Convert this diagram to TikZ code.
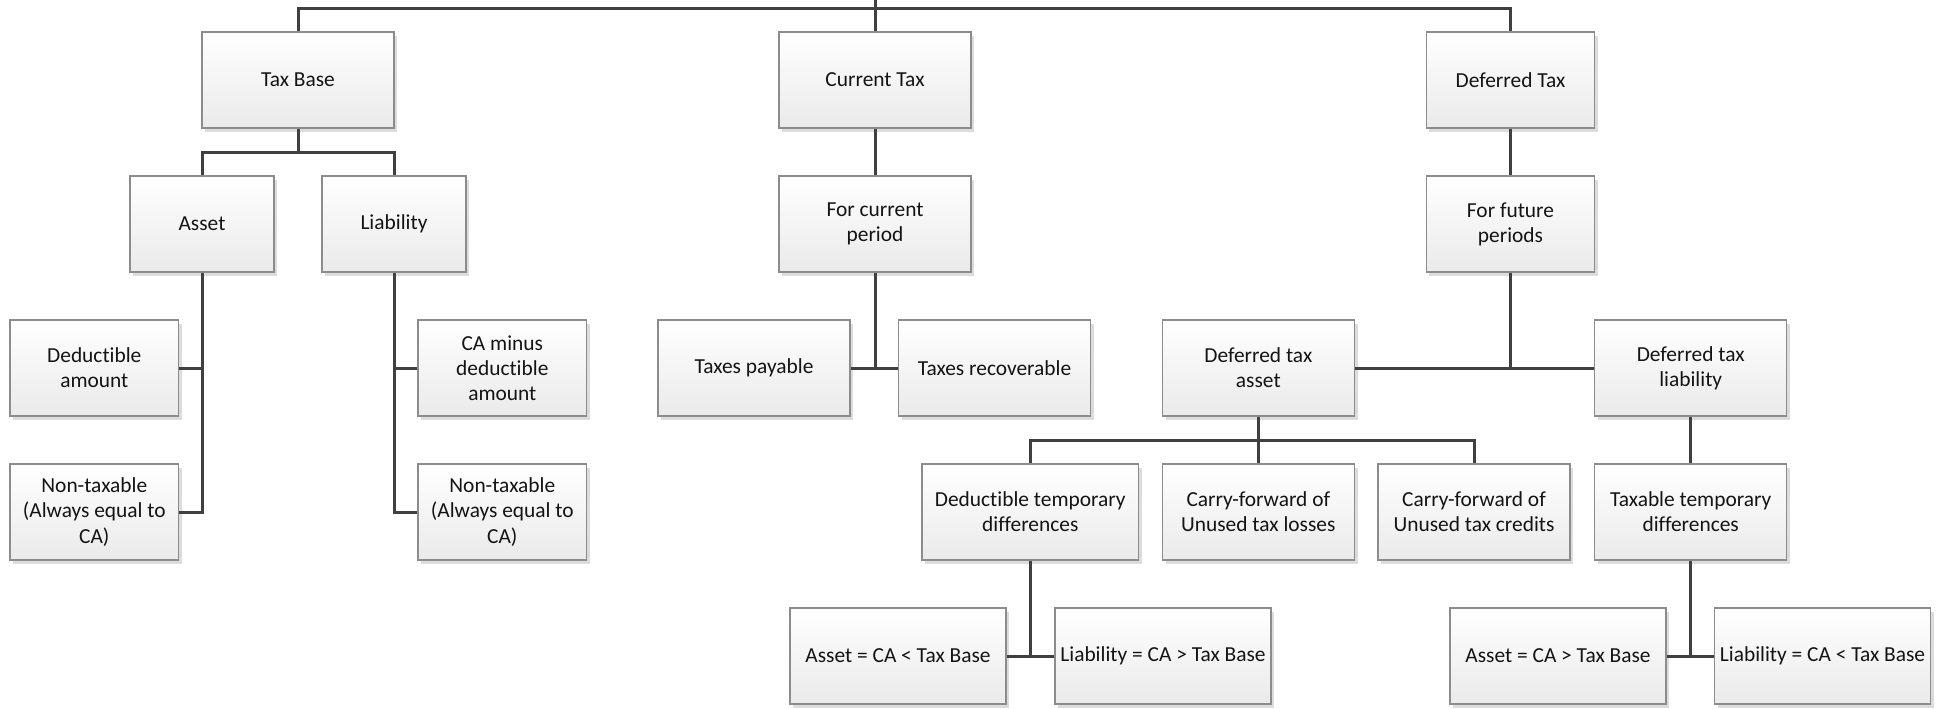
\documentclass[tikz,border=0pt]{standalone}
\usepackage{fontspec}
\setmainfont{Carlito}[Ligatures={NoCommon}]
\usetikzlibrary{shadows}
\definecolor{linkgray}{HTML}{404040}
\definecolor{edgegray}{HTML}{8C8C8C}
\definecolor{fillbot}{HTML}{EAEAEA}
\definecolor{shadowgray}{HTML}{DCDCDC}
\tikzset{
  box/.style={draw=edgegray, line width=0.6pt, top color=white, bottom color=fillbot,
    minimum height=48pt, inner sep=2pt, align=center, text=black!92,
    font=\fontsize{10.7pt}{12.6pt}\selectfont,
    drop shadow={shadow xshift=1.6pt, shadow yshift=-2pt, fill=shadowgray, opacity=1}},
  w144/.style={minimum width=72pt},
  w168/.style={minimum width=84.3pt},
  w192/.style={minimum width=96pt},
  w216/.style={minimum width=108pt},
  link/.style={draw=linkgray, line width=1.5pt}
}
\begin{document}
\begin{tikzpicture}[x=0.5pt, y=-0.5pt]
\useasboundingbox (0,0) rectangle (1944,708);

% first level
\node[box, w192] (tb)  at (298,80)    {Tax Base};
\node[box, w192] (ct)  at (875,80)    {Current Tax};
\node[box, w168] (dt)  at (1510.5,80) {Deferred Tax};

% second level
\node[box, w144] (as)  at (202,224)    {Asset};
\node[box, w144] (li)  at (394,224)    {Liability};
\node[box, w192] (fcp) at (875,224)    {For current\\period};
\node[box, w168] (ffp) at (1510.5,224) {For future\\periods};

% third level
\node[box, w168] (da)  at (94.3,368)   {Deductible\\amount};
\node[box, w168] (cam) at (502.3,368)  {CA minus\\deductible\\amount};
\node[box, w192] (tp)  at (754,368)    {Taxes payable};
\node[box, w192] (tr)  at (994.5,368)  {Taxes recoverable};
\node[box, w192] (dta) at (1258.3,368) {Deferred tax\\asset};
\node[box, w192] (dtl) at (1690.7,368) {Deferred tax\\liability};

% fourth level
\node[box, w168] (nta) at (94.3,512)   {Non-taxable\\(Always equal to\\CA)};
\node[box, w168] (ntl) at (502.3,512)  {Non-taxable\\(Always equal to\\CA)};
\node[box, minimum width=108.3pt] (dtd) at (1030.3,512) {Deductible temporary\\differences};
\node[box, w192] (cfl) at (1258.3,512) {Carry-forward of\\Unused tax losses};
\node[box, w192] (cfc) at (1474,512)   {Carry-forward of\\Unused tax credits};
\node[box, w192] (ttd) at (1690.7,512) {Taxable temporary\\differences};

% fifth level
\node[box, w216] (a1) at (898,656)    {Asset = CA < Tax Base};
\node[box, w216] (l1) at (1163,656)   {Liability = CA > Tax Base};
\node[box, w216] (a2) at (1558,656)   {Asset = CA > Tax Base};
\node[box, w216] (l2) at (1822.5,656) {Liability = CA < Tax Base};

% connectors
\coordinate (root) at (875,0);
\draw[link] (root) -- (ct.north);
\draw[link] (tb.north) -- (tb.north |- 0,8) -- (dt.north |- 0,8) -- (dt.north);

\draw[link] (tb.south) -- (tb.south |- 0,152);
\draw[link] (as.north) -- (as.north |- 0,152) -- (li.north |- 0,152) -- (li.north);

\draw[link] (as.south) -- (as.south |- nta.east) -- (nta.east);
\draw[link] (da.east) -- (da.east -| as.south);
\draw[link] (li.south) -- (li.south |- ntl.west) -- (ntl.west);
\draw[link] (cam.west) -- (cam.west -| li.south);

\draw[link] (ct.south) -- (fcp.north);
\draw[link] (fcp.south) -- (fcp.south |- tp.east);
\draw[link] (tp.east) -- (tr.west);

\draw[link] (dt.south) -- (ffp.north);
\draw[link] (ffp.south) -- (ffp.south |- dta.east);
\draw[link] (dta.east) -- (dtl.west);

\draw[link] (dta.south) -- (cfl.north);
\draw[link] (dtd.north) -- (dtd.north |- 0,440.7) -- (cfc.north |- 0,440.7) -- (cfc.north);
\draw[link] (dtl.south) -- (ttd.north);

\draw[link] (dtd.south) -- (dtd.south |- a1.east);
\draw[link] (a1.east) -- (l1.west);
\draw[link] (ttd.south) -- (ttd.south |- a2.east);
\draw[link] (a2.east) -- (l2.west);
\end{tikzpicture}
\end{document}
